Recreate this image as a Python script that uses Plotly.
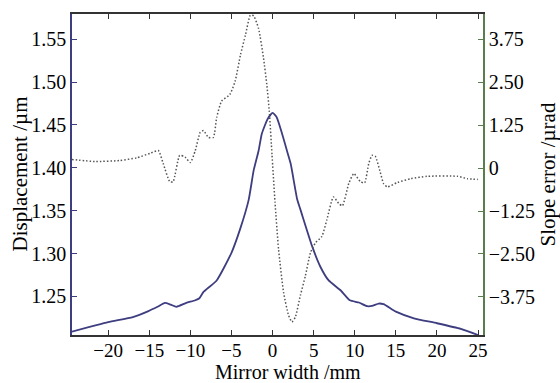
import plotly.graph_objects as go

# Displacement profile across the mirror width (mm -> µm)
disp_x = [-24.4, -20.0, -17.0, -15.1, -14.0, -13.1, -12.4, -11.7, -10.5, -9.4, -8.9, -8.4,
          -6.8, -5.0, -3.9, -2.9, -2.3, -1.7, -1.3, -0.6, 0.0, 0.5, 1.15, 1.75, 2.2,
          3.0, 3.4, 4.8, 5.8, 6.8, 8.3, 9.4, 10.5, 11.5, 12.1, 12.9, 13.5, 15.0,
          17.2, 20.0, 22.9, 25.0]
disp_y = [1.209, 1.220, 1.226, 1.233, 1.238, 1.2425, 1.2405, 1.238, 1.2425, 1.2456, 1.248, 1.2553,
          1.2687, 1.301, 1.330, 1.363, 1.397, 1.420, 1.440, 1.457, 1.464, 1.459, 1.440, 1.420, 1.405,
          1.363, 1.351, 1.309, 1.285, 1.269, 1.257, 1.2456, 1.243, 1.2387, 1.239, 1.2418, 1.241, 1.2323,
          1.2246, 1.2188, 1.2122, 1.205]

# Slope error across the mirror width (µrad)
slope_x = [-24.4, -21.6, -18.6, -16.5, -14.9, -13.9, -13.3, -12.5, -12.1, -11.3, -10.65, -10.0,
           -9.4, -8.8, -8.4, -7.8, -7.2, -6.8, -6.2, -5.2, -4.55, -3.9, -3.3, -2.7, -2.3,
           -1.7, -1.1, -0.7, -0.4, -0.07, 0.3, 0.73, 1.34, 1.95, 2.36, 2.77, 3.38, 3.99,
           4.6, 5.2, 6.0, 6.6, 7.4, 8.05, 8.5, 9.27, 9.88, 10.7, 11.2, 11.7, 12.1, 12.5,
           13.1, 13.5, 13.95, 15.2, 16.8, 18.8, 22.5, 23.7, 25.0]
slope_y = [0.25, 0.19, 0.22, 0.30, 0.43, 0.51, 0.13, -0.40, -0.40, 0.37, 0.32, 0.16,
           0.51, 1.04, 1.09, 0.89, 0.89, 1.47, 1.95, 2.14, 2.53, 3.30, 3.87, 4.45, 4.43,
           4.06, 3.20, 2.43, 1.66, 0.40, -1.00, -2.37, -3.62, -4.29, -4.48, -4.34, -3.71, -3.14,
           -2.47, -2.18, -1.99, -1.51, -0.84, -1.03, -1.10, -0.45, -0.16, -0.40, -0.43, 0.13, 0.37, 0.34,
           -0.12, -0.45, -0.55, -0.42, -0.31, -0.24, -0.24, -0.31, -0.33]

x_ticks = [-20, -15, -10, -5, 0, 5, 10, 15, 20, 25]
left_ticks = [1.25, 1.30, 1.35, 1.40, 1.45, 1.50, 1.55]
right_ticks = [-3.75, -2.50, -1.25, 0, 1.25, 2.50, 3.75]
right_labels = ["\u22123.75", "\u22122.50", "\u22121.25", "0", "1.25", "2.50", "3.75"]

NAVY = "#3d3d80"
GREEN = "#5b7d4e"
FONT = "Liberation Serif"

fig = go.Figure()
fig.add_trace(go.Scatter(x=disp_x, y=disp_y, mode="lines", yaxis="y",
                         line=dict(color=NAVY, width=1.8, shape="spline", smoothing=0.5),
                         showlegend=False))
fig.add_trace(go.Scatter(x=slope_x, y=slope_y, mode="lines", yaxis="y2",
                         line=dict(color="#555555", width=1.5, dash="1.5px,2px",
                                   shape="spline", smoothing=0.5),
                         showlegend=False))

fig.update_layout(
    width=560, height=383,
    margin=dict(l=72, r=77, t=12, b=48),
    paper_bgcolor="white", plot_bgcolor="white",
    font=dict(family=FONT, size=20, color="black"),
    xaxis=dict(range=[-24.4, 25.6], tickvals=x_ticks, showgrid=False, zeroline=False,
               showline=True, linecolor="#333333", linewidth=1.5, mirror="ticks",
               ticks="inside", ticklen=5, tickcolor="#333333", tickwidth=1.2,
               tickfont=dict(size=19), ticklabelstandoff=-3),
    yaxis=dict(range=[1.2051, 1.5794], tickvals=left_ticks, tickformat=".2f",
               showgrid=False, zeroline=False, showline=True, linecolor=NAVY, linewidth=1.5,
               ticks="inside", ticklen=5, tickcolor=NAVY, tickwidth=1.2),
    yaxis2=dict(range=[-4.859, 4.484], tickvals=right_ticks, ticktext=right_labels,
                overlaying="y", side="right", showgrid=False, zeroline=False,
                showline=True, linecolor=GREEN, linewidth=1.5,
                ticks="inside", ticklen=5, tickcolor=GREEN, tickwidth=1.2),
    annotations=[
        dict(text="Displacement /\u00b5m", textangle=-90, xref="paper", yref="paper",
             x=0, y=0.5, xanchor="center", yanchor="middle", xshift=-53,
             showarrow=False, font=dict(size=21)),
        dict(text="Slope error /\u00b5rad", textangle=-90, xref="paper", yref="paper",
             x=1, y=0.5, xanchor="center", yanchor="middle", xshift=64,
             showarrow=False, font=dict(size=21)),
        dict(text="Mirror width /mm", xref="paper", yref="paper",
             x=(288 - 72) / 411, y=0, xanchor="center", yanchor="top", yshift=-24,
             showarrow=False, font=dict(size=20)),
    ],
)

fig.write_html("out.html")
